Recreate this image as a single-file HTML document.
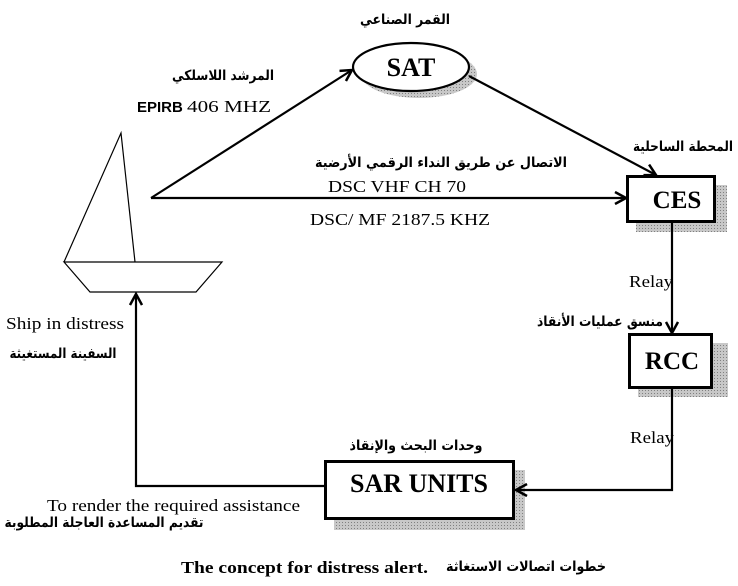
<!DOCTYPE html>
<html><head><meta charset="utf-8"><style>
html,body{margin:0;padding:0;background:#fff;}
svg{display:block;}
.s{font-family:"Liberation Serif",serif;fill:#000;}
.a{font-family:"DejaVu Sans",sans-serif;font-weight:bold;fill:#000;}
</style></head><body>
<svg width="738" height="586" viewBox="0 0 738 586" xmlns="http://www.w3.org/2000/svg">
<defs>
<marker id="ar" markerWidth="14" markerHeight="14" refX="12" refY="7" orient="auto" markerUnits="userSpaceOnUse">
<path d="M1,1 L12,7 L1,13" fill="none" stroke="#000" stroke-width="2.5"/>
</marker>
<pattern id="dots" width="3" height="3" patternUnits="userSpaceOnUse">
<rect width="3" height="3" fill="#c8c8c8"/><rect width="1" height="1" fill="#808080"/>
</pattern>
</defs>
<ellipse cx="419" cy="74" rx="58" ry="24" fill="url(#dots)"/>
<ellipse cx="411" cy="67" rx="58" ry="24" fill="#fff" stroke="#000" stroke-width="2.2"/>
<text x="411" y="76" text-anchor="middle" class="s" font-size="26" font-weight="bold">SAT</text>
<rect x="636" y="185" width="91" height="47" fill="url(#dots)"/>
<rect x="627.5" y="176.5" width="87" height="45" fill="#fff" stroke="#000" stroke-width="3"/>
<text x="677" y="208" text-anchor="middle" class="s" font-size="25" font-weight="bold">CES</text>
<rect x="638" y="343" width="90" height="54" fill="url(#dots)"/>
<rect x="629.5" y="334.5" width="82" height="53" fill="#fff" stroke="#000" stroke-width="3"/>
<text x="672" y="369" text-anchor="middle" class="s" font-size="25" font-weight="bold">RCC</text>
<rect x="334" y="470" width="191" height="60" fill="url(#dots)"/>
<rect x="325.5" y="461.5" width="188" height="57" fill="#fff" stroke="#000" stroke-width="3"/>
<text x="419" y="492" text-anchor="middle" class="s" font-size="26" font-weight="bold" textLength="138" lengthAdjust="spacingAndGlyphs">SAR UNITS</text>
<g stroke="#000" stroke-width="2.2" fill="none">
<line x1="151" y1="198" x2="352" y2="70" marker-end="url(#ar)"/>
<line x1="469" y1="76" x2="656" y2="175" marker-end="url(#ar)"/>
<line x1="151" y1="198" x2="626" y2="198" marker-end="url(#ar)"/>
<line x1="672" y1="222" x2="672" y2="333" marker-end="url(#ar)"/>
<polyline points="672,388 672,490 516,490" marker-end="url(#ar)"/>
<polyline points="325,486 136,486 136,294" marker-end="url(#ar)"/>
</g>
<g stroke="#000" stroke-width="1.2" fill="none">
<polyline points="64,262 121,133 135,262"/>
<polygon points="64,262 222,262 196,292 90,292"/>
</g>
<text x="405" y="24" text-anchor="middle" class="a" font-size="14" textLength="90" lengthAdjust="spacingAndGlyphs">القمر الصناعي</text>
<text x="223" y="80" text-anchor="middle" class="a" font-size="14" textLength="102" lengthAdjust="spacingAndGlyphs">المرشد اللاسلكي</text>
<text x="137" y="112" font-family="Liberation Sans,sans-serif" font-weight="bold" font-size="15">EPIRB</text>
<text x="187" y="112" class="s" font-size="17" textLength="84" lengthAdjust="spacingAndGlyphs">406 MHZ</text>
<text x="683" y="151" text-anchor="middle" class="a" font-size="14" textLength="100" lengthAdjust="spacingAndGlyphs">المحطة الساحلية</text>
<text x="441" y="167" text-anchor="middle" class="a" font-size="14" textLength="252" lengthAdjust="spacingAndGlyphs">الاتصال عن طريق النداء الرقمي الأرضية</text>
<text x="328" y="192" class="s" font-size="17" textLength="138" lengthAdjust="spacingAndGlyphs">DSC VHF CH 70</text>
<text x="310" y="225" class="s" font-size="17" textLength="180" lengthAdjust="spacingAndGlyphs">DSC/ MF 2187.5 KHZ</text>
<text x="629" y="287" class="s" font-size="17" textLength="44" lengthAdjust="spacingAndGlyphs">Relay</text>
<text x="600" y="326" text-anchor="middle" class="a" font-size="14" textLength="126" lengthAdjust="spacingAndGlyphs">منسق عمليات الأنقاذ</text>
<text x="630" y="443" class="s" font-size="17" textLength="44" lengthAdjust="spacingAndGlyphs">Relay</text>
<text x="416" y="450" text-anchor="middle" class="a" font-size="14" textLength="133" lengthAdjust="spacingAndGlyphs">وحدات البحث والإنقاذ</text>
<text x="6" y="329" class="s" font-size="17" textLength="118" lengthAdjust="spacingAndGlyphs">Ship in distress</text>
<text x="63" y="358" text-anchor="middle" class="a" font-size="14" textLength="107" lengthAdjust="spacingAndGlyphs">السفينة المستغيثة</text>
<text x="47" y="511" class="s" font-size="17" textLength="253" lengthAdjust="spacingAndGlyphs">To render the required assistance</text>
<text x="104" y="527" text-anchor="middle" class="a" font-size="14" textLength="199" lengthAdjust="spacingAndGlyphs">تقديم المساعدة العاجلة المطلوبة</text>
<text x="181" y="573" class="s" font-size="17" font-weight="bold" textLength="247" lengthAdjust="spacingAndGlyphs">The concept for distress alert.</text>
<text x="526" y="571" text-anchor="middle" class="a" font-size="14" textLength="160" lengthAdjust="spacingAndGlyphs">خطوات اتصالات الاستغاثة</text>
</svg>
</body></html>
